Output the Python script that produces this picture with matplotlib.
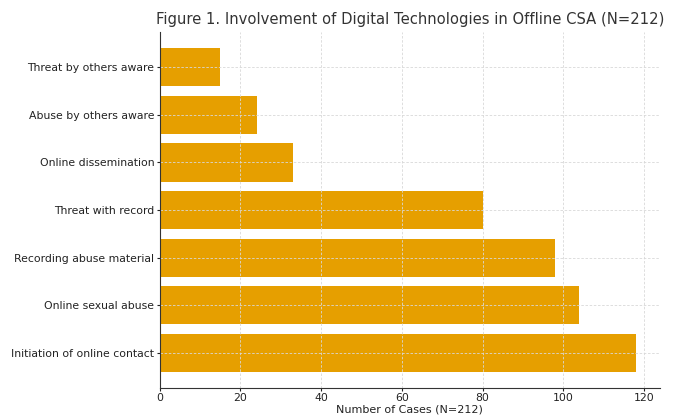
import matplotlib
matplotlib.use("Agg")
import matplotlib.pyplot as plt

# data
categories = [
    "Initiation of online contact",
    "Online sexual abuse",
    "Recording abuse material",
    "Threat with record",
    "Online dissemination",
    "Abuse by others aware",
    "Threat by others aware",
]
cases = [118, 104, 98, 80, 33, 24, 15]

fig = plt.figure(figsize=(6.8, 4.18), dpi=100)
ax = fig.add_axes([0.235, 0.072, 0.735, 0.851])

ax.barh(categories, cases, color="#E69F00", height=0.8)
ax.grid(True, linestyle=(0, (3, 2)), color="#d8d8d8", linewidth=0.6)
ax.spines["top"].set_visible(False)
ax.spines["right"].set_visible(False)
ax.spines["left"].set_color("#333333")
ax.spines["bottom"].set_color("#333333")

ax.tick_params(labelsize=7.8, colors="#222222", length=2.5, pad=1.5)
ax.set_xlabel("Number of Cases (N=212)", fontsize=8, labelpad=1, color="#222222")
ax.set_title("Figure 1. Involvement of Digital Technologies in Offline CSA (N=212)",
             fontsize=10.6, color="#333333", pad=6)

fig.savefig("out.png", dpi=100)
